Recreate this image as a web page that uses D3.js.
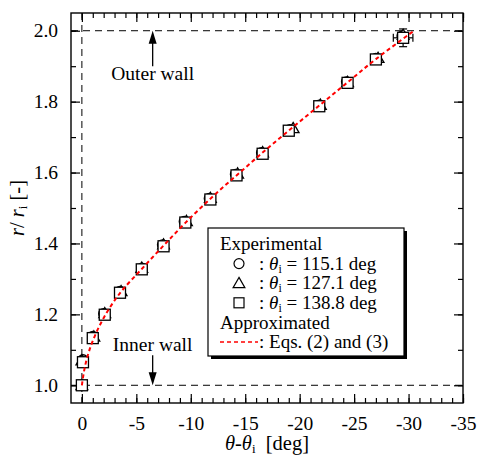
<!DOCTYPE html>
<html>
<head>
<meta charset="utf-8">
<script src="https://cdn.jsdelivr.net/npm/d3@7"></script>
<style>
  body { margin: 0; background: #fff; }
  svg text { font-family: "Liberation Serif", "Times New Roman", serif; fill: #000; }
</style>
</head>
<body>
<div id="chart"></div>
<script>
/* r/ri vs theta-theta_i: experimental points and approximated curve */

const xDomain = [1, -35];
const yDomain = [0.95, 2.05];
const xTicks = [0, -5, -10, -15, -20, -25, -30, -35];
const yTicks = [1.0, 1.2, 1.4, 1.6, 1.8, 2.0];

// experimental series (theta - theta_i, r/ri)
const circX = [0, -0.1, -1.0, -2.0, -3.5, -5.5, -7.4, -9.4, -11.7, -14.1, -16.5, -19.1, -21.8, -24.3, -27.0, -29.4];
const circY = [1.0, 1.072, 1.138, 1.202, 1.265, 1.330, 1.396, 1.462, 1.527, 1.595, 1.656, 1.721, 1.790, 1.856, 1.922, 1.985];
const triX = [0, 0.0, -1.1, -2.1, -3.6, -5.5, -7.5, -9.6, -11.8, -14.3, -16.6, -19.4, -21.9, -24.4, -27.2, -29.5];
const triY = [1.0, 1.070, 1.137, 1.203, 1.265, 1.331, 1.397, 1.463, 1.528, 1.597, 1.657, 1.725, 1.791, 1.855, 1.923, 1.988];
const sqX = [0, -0.1, -1.0, -2.1, -3.5, -5.5, -7.5, -9.5, -11.8, -14.2, -16.6, -19.0, -21.8, -24.4, -27.0, -29.5];
const sqY = [1.0, 1.065, 1.133, 1.199, 1.261, 1.327, 1.392, 1.459, 1.524, 1.592, 1.653, 1.718, 1.787, 1.853, 1.919, 1.980];
const sqXErr = [0, 0, 0, 0, 0, 0, 0, 0, 0, 0, 0, 0, 0, 0, 0, 0.9];
const sqYErr = [0, 0, 0, 0, 0, 0, 0, 0, 0, 0, 0, 0, 0, 0, 0, 0.025];

// approximated curve, Eqs. (2) and (3)
const fitX = [0, -0.2, -0.5, -1.0, -2.0, -3.5, -5.5, -7.5, -9.5, -12.0, -14.5, -17.0, -19.5, -22.0, -24.5, -27.0, -30.5];
const fitY = [1.0, 1.04, 1.08, 1.125, 1.19, 1.26, 1.328, 1.394, 1.458, 1.532, 1.60, 1.667, 1.731, 1.794, 1.857, 1.92, 2.0];

const seriesValues = [' = 115.1 deg', ' = 127.1 deg', ' = 138.8 deg'];

function drawChart() {
  const width = 478, height = 459;
  const margin = { top: 13, right: 15, bottom: 56, left: 71 };
  const inner = { width: width - margin.left - margin.right, height: height - margin.top - margin.bottom };
  const serif = '"Liberation Serif", "Times New Roman", serif';

  const svg = d3.select('#chart').append('svg')
    .attr('width', width).attr('height', height);

  const g = svg.append('g').attr('transform', `translate(${margin.left},${margin.top})`);

  const x = d3.scaleLinear().domain(xDomain).range([0, inner.width]);
  const y = d3.scaleLinear().domain(yDomain).range([inner.height, 0]);

  const minorX = d3.range(0, -36, -1);
  const minorY = d3.range(1.0, 2.01, 0.1);
  const fmtX = d => String(d);
  const fmtY = d => d.toFixed(1);

  // ticks on all four sides, pointing inward
  const axes = [
    { ax: d3.axisBottom(x), t: `translate(0,${inner.height})`, labels: true, isX: true },
    { ax: d3.axisTop(x), t: 'translate(0,0)', labels: false, isX: true },
    { ax: d3.axisLeft(y), t: 'translate(0,0)', labels: true, isX: false },
    { ax: d3.axisRight(y), t: `translate(${inner.width},0)`, labels: false, isX: false }
  ];
  axes.forEach(a => {
    g.append('g').attr('transform', a.t)
      .call(a.ax.tickValues(a.isX ? minorX : minorY).tickSizeInner(-5).tickSizeOuter(0).tickFormat(''))
      .call(s => s.select('.domain').remove());
    g.append('g').attr('transform', a.t)
      .call(a.ax.tickValues(a.isX ? xTicks : yTicks).tickSizeInner(-9).tickSizeOuter(0).tickPadding(13)
        .tickFormat(a.labels ? (a.isX ? fmtX : fmtY) : ''))
      .call(s => s.select('.domain').remove());
  });
  g.selectAll('.tick line').attr('stroke', '#000').attr('stroke-width', 1.2);
  g.selectAll('.tick text').style('font-family', serif).style('font-size', '19.5px').style('fill', '#000');

  // frame
  g.append('rect').attr('width', inner.width).attr('height', inner.height)
    .attr('fill', 'none').attr('stroke', '#000').attr('stroke-width', 1.4);

  // wall and origin reference lines
  const dash = '7,5';
  g.append('line').attr('x1', 0).attr('x2', inner.width).attr('y1', y(2.0)).attr('y2', y(2.0))
    .attr('stroke', '#000').attr('stroke-dasharray', dash);
  g.append('line').attr('x1', 0).attr('x2', inner.width).attr('y1', y(1.0)).attr('y2', y(1.0))
    .attr('stroke', '#000').attr('stroke-dasharray', dash);
  g.append('line').attr('x1', x(0)).attr('x2', x(0)).attr('y1', 0).attr('y2', inner.height)
    .attr('stroke', '#000').attr('stroke-dasharray', dash);

  // arrows + wall labels
  const arrowX = x(-6.5);
  g.append('line').attr('x1', arrowX).attr('x2', arrowX).attr('y1', y(2.0) + 10).attr('y2', y(1.9))
    .attr('stroke', '#000').attr('stroke-width', 1.3);
  g.append('path').attr('d', `M${arrowX},${y(2.0)} l-4,13 l8,0 z`).attr('fill', '#000');
  g.append('text').attr('x', arrowX).attr('y', y(2.0) + 49).attr('text-anchor', 'middle')
    .style('font-size', '19.5px').text('Outer wall');

  g.append('line').attr('x1', arrowX).attr('x2', arrowX).attr('y1', y(1.0) - 10).attr('y2', y(1.085))
    .attr('stroke', '#000').attr('stroke-width', 1.3);
  g.append('path').attr('d', `M${arrowX},${y(1.0)} l-4,-13 l8,0 z`).attr('fill', '#000');
  g.append('text').attr('x', arrowX).attr('y', y(1.0) - 34).attr('text-anchor', 'middle')
    .style('font-size', '19.5px').text('Inner wall');

  // error bars (square series)
  const eb = g.append('g').attr('stroke', '#000').attr('stroke-width', 1.2);
  sqX.forEach((xv, i) => {
    const cy = y(sqY[i]);
    if (sqXErr[i] > 0) {
      const x0 = x(xv - sqXErr[i]), x1 = x(xv + sqXErr[i]);
      eb.append('line').attr('x1', x0).attr('x2', x1).attr('y1', cy).attr('y2', cy);
      eb.append('line').attr('x1', x0).attr('x2', x0).attr('y1', cy - 4).attr('y2', cy + 4);
      eb.append('line').attr('x1', x1).attr('x2', x1).attr('y1', cy - 4).attr('y2', cy + 4);
    }
    if (sqYErr[i] > 0) {
      const y0 = y(sqY[i] - sqYErr[i]), y1 = y(sqY[i] + sqYErr[i]);
      eb.append('line').attr('x1', x(xv)).attr('x2', x(xv)).attr('y1', y0).attr('y2', y1);
      eb.append('line').attr('x1', x(xv) - 4).attr('x2', x(xv) + 4).attr('y1', y0).attr('y2', y0);
      eb.append('line').attr('x1', x(xv) - 4).attr('x2', x(xv) + 4).attr('y1', y1).attr('y2', y1);
    }
  });

  // markers
  const circles = d3.range(circX.length).map(i => [circX[i], circY[i]]);
  const tris = d3.range(triX.length).map(i => [triX[i], triY[i]]);
  const squares = d3.range(sqX.length).map(i => [sqX[i], sqY[i]]);

  g.selectAll('.circ').data(circles).enter().append('circle')
    .attr('cx', d => x(d[0])).attr('cy', d => y(d[1])).attr('r', 5)
    .attr('fill', '#fff').attr('stroke', '#000').attr('stroke-width', 1.3);
  const triPath = d3.symbol().type(d3.symbolTriangle).size(60);
  g.selectAll('.tri').data(tris).enter().append('path')
    .attr('d', triPath).attr('transform', d => `translate(${x(d[0])},${y(d[1]) + 1})`)
    .attr('fill', '#fff').attr('stroke', '#000').attr('stroke-width', 1.3);
  g.selectAll('.sq').data(squares).enter().append('rect')
    .attr('x', d => x(d[0]) - 5.5).attr('y', d => y(d[1]) - 5.5).attr('width', 11).attr('height', 11)
    .attr('fill', '#fff').attr('stroke', '#000').attr('stroke-width', 1.3);

  // approximated curve
  const fit = d3.range(fitX.length).map(i => [fitX[i], fitY[i]]);
  g.append('path').datum(fit)
    .attr('d', d3.line().x(d => x(d[0])).y(d => y(d[1])).curve(d3.curveCatmullRom))
    .attr('fill', 'none').attr('stroke', '#ff0000').attr('stroke-width', 2).attr('stroke-dasharray', '4,3');

  // legend
  const lg = svg.append('g');
  const bx = 208, by = 228, bw = 196, bh = 128;
  lg.append('rect').attr('x', bx + 3).attr('y', by + 3).attr('width', bw).attr('height', bh).attr('fill', '#000');
  lg.append('rect').attr('x', bx).attr('y', by).attr('width', bw).attr('height', bh)
    .attr('fill', '#fff').attr('stroke', '#000').attr('stroke-width', 1.2);
  const lx = 220, mx = 239, tx = 259, base = 250, step = 19.6;
  lg.append('text').attr('x', lx).attr('y', base).style('font-size', '19px').text('Experimental');
  seriesValues.forEach((v, i) => {
    const yy = base + step * (i + 1);
    const t = lg.append('text').attr('x', tx).attr('y', yy).style('font-size', '19px');
    t.append('tspan').text(': ');
    t.append('tspan').style('font-style', 'italic').text('\u03B8');
    t.append('tspan').style('font-size', '12px').attr('dy', 3).text('i');
    t.append('tspan').attr('dy', -3).text(v);
  });
  lg.append('circle').attr('cx', mx).attr('cy', base + step - 6).attr('r', 5)
    .attr('fill', '#fff').attr('stroke', '#000').attr('stroke-width', 1.2);
  lg.append('path').attr('d', triPath).attr('transform', `translate(${mx},${base + step * 2 - 5})`)
    .attr('fill', '#fff').attr('stroke', '#000').attr('stroke-width', 1.2);
  lg.append('rect').attr('x', mx - 5).attr('y', base + step * 3 - 11).attr('width', 10).attr('height', 10)
    .attr('fill', '#fff').attr('stroke', '#000').attr('stroke-width', 1.2);
  lg.append('text').attr('x', lx).attr('y', base + step * 4 + 1).style('font-size', '19px').text('Approximated');
  lg.append('line').attr('x1', lx).attr('x2', tx - 1).attr('y1', base + step * 5 - 6).attr('y2', base + step * 5 - 6)
    .attr('stroke', '#ff0000').attr('stroke-width', 1.5).attr('stroke-dasharray', '4,3');
  lg.append('text').attr('x', tx).attr('y', base + step * 5).style('font-size', '19px').text(': Eqs. (2) and (3)');

  // axis titles
  const xt = svg.append('text').attr('x', margin.left + inner.width / 2).attr('y', 450)
    .attr('text-anchor', 'middle').style('font-size', '20.5px');
  xt.append('tspan').style('font-style', 'italic').text('\u03B8');
  xt.append('tspan').text('-');
  xt.append('tspan').style('font-style', 'italic').text('\u03B8');
  xt.append('tspan').style('font-size', '13px').attr('dy', 3).text('i');
  xt.append('tspan').attr('dy', -3).text('\u00A0 [deg]');

  const yt = svg.append('text').attr('transform', `translate(24,${margin.top + inner.height / 2}) rotate(-90)`)
    .attr('text-anchor', 'middle').style('font-size', '20.5px');
  yt.append('tspan').style('font-style', 'italic').text('r');
  yt.append('tspan').text('/ ');
  yt.append('tspan').style('font-style', 'italic').text('r');
  yt.append('tspan').style('font-size', '13px').attr('dy', 3).text('i');
  yt.append('tspan').attr('dy', -3).text('\u00A0[-]');
}

drawChart();
</script>
</body>
</html>
